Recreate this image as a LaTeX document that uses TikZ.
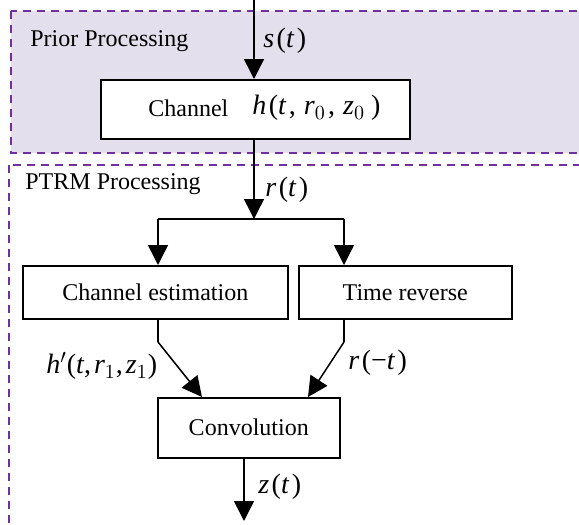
\documentclass[tikz,border=0pt]{standalone}
\usepackage{fontspec}
\setmainfont{Liberation Serif}
\usetikzlibrary{arrows.meta}
\definecolor{framepurple}{HTML}{7030A0}
\definecolor{framefill}{HTML}{E4DFEC}
% italic variable and small gap used in the signal labels
\newcommand{\var}[1]{\textit{#1}}
\newcommand{\gap}{\kern1.2pt}
\begin{document}
\begin{tikzpicture}[x=0.5pt,y=-0.5pt,
  region/.style={draw=framepurple,line width=1pt,dash pattern=on 4pt off 3pt},
  block/.style={draw,line width=0.75pt,fill=white,inner sep=0pt,anchor=north west},
  flow/.style={line width=0.75pt,-{Triangle[length=10pt,width=10pt]}},
  wire/.style={line width=0.75pt},
  sig/.style={font=\fontsize{14}{16}\selectfont,inner sep=0pt},
  txt/.style={font=\fontsize{12}{14}\selectfont,inner sep=0pt}]
\useasboundingbox (0,0) rectangle (579,525);
\clip (0,0) rectangle (579,525);
% processing regions
\draw[region,fill=framefill] (11,11) rectangle (600,153);
\draw[region] (9,165) rectangle (600,560);
\node[txt,anchor=west] (prior) at (30,41) {Prior Processing};
\node[txt,anchor=west] (ptrm) at (25,184) {PTRM Processing};
% blocks
\node[block,minimum width=154.5pt,minimum height=29.5pt] (chan) at (100,79) {};
\node[txt,anchor=west] (chantxt) at (148,108) {Channel};
\node[sig,anchor=west] (htxt) at (252,108) {\var{h}\gap(\var{t}\gap,\kern4pt\var{r}$_0$\gap,\kern4pt\var{z}$_0$\kern3pt)};
\node[block,minimum width=132.5pt,minimum height=26.5pt] (est) at (22,265) {};
\node[txt] at (est.center) {Channel estimation};
\node[block,minimum width=106.5pt,minimum height=26.5pt] (rev) at (298,265) {};
\node[txt] at (rev.center) {Time reverse};
\node[block,minimum width=91pt,minimum height=30pt] (conv) at (157,397) {};
\node[txt] at (conv.center) {Convolution};
% connector points
\coordinate (in) at (254,0);
\coordinate (split) at (254,219);
\coordinate (splitL) at (158,219);
\coordinate (splitR) at (344,219);
\coordinate (bendL) at (158,342);
\coordinate (bendR) at (344,342);
\coordinate (out) at (244,521);
% connectors
\draw[flow] (in) -- (254,79);
\draw[flow] (chan.south -| in) -- (split);
\draw[wire] (splitL) -- (splitR);
\draw[flow] (splitL) -- (splitL |- est.north);
\draw[flow] (splitR) -- (splitR |- rev.north);
\draw[wire] (est.south -| bendL) -- (bendL);
\draw[flow] (bendL) -- (202,397);
\draw[wire] (rev.south -| bendR) -- (bendR);
\draw[flow] (bendR) -- (308,397);
\draw[flow] (conv.south -| out) -- (out);
% signal labels
\node[sig,anchor=west] (s) at (263,41) {\var{s}\gap(\var{t}\gap)};
\node[sig,anchor=west] (r) at (265,190) {\var{r}\gap(\var{t}\gap)};
\node[sig,anchor=west] (hp) at (46,366) {\var{h}$'$(\var{t},\kern1.5pt\var{r}$_1$,\kern1.5pt\var{z}$_1$)};
\node[sig,anchor=west] (rm) at (348,363) {\var{r}\gap(−\var{t}\gap)};
\node[sig,anchor=west] (z) at (258,487) {\var{z}\gap(\var{t}\gap)};
\end{tikzpicture}
\end{document}
